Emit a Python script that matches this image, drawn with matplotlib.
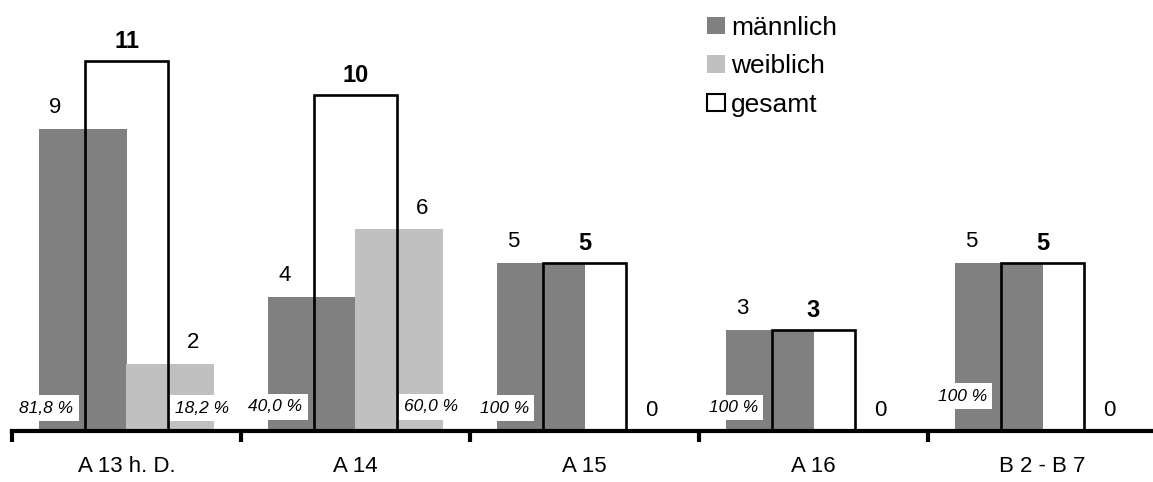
import matplotlib
matplotlib.use("Agg")
import matplotlib.pyplot as plt
from matplotlib.patches import Patch
import numpy as np

plt.rcParams['font.family'] = ['Liberation Sans', 'DejaVu Sans']

# data
categories = ["A 13 h. D.", "A 14", "A 15", "A 16", "B 2 - B 7"]
maennlich = [9, 4, 5, 3, 5]
weiblich = [2, 6, 0, 0, 0]
gesamt = [11, 10, 5, 3, 5]
pct_m = ["81,8 %", "40,0 %", "100 %", "100 %", "100 %"]
pct_w = ["18,2 %", "60,0 %", "", "", ""]

# style
c_m = "#808080"
c_w = "#c0c0c0"
bw = 0.385
gw = 0.36
off = 0.19
pct_y = [0.68, 0.72, 0.68, 0.70, 1.04]

x = np.arange(len(categories))

fig = plt.figure(figsize=(11.53, 4.82), dpi=100)
ax = fig.add_axes([12 / 1153, 51 / 482, 1145 / 1153, 420 / 482])

# gesamt fill behind, outline on top
ax.bar(x, gesamt, width=gw, color="white", edgecolor="none", zorder=1)
ax.bar(x - off, maennlich, width=bw, color=c_m, zorder=2)
ax.bar(x + off, weiblich, width=bw, color=c_w, zorder=2)
ax.bar(x, gesamt, width=gw, fill=False, edgecolor="black", linewidth=1.9, zorder=3)

for i in range(len(x)):
    ax.annotate(str(maennlich[i]), (x[i] - 0.31, maennlich[i]), xytext=(0, 15.5),
                textcoords="offset points", ha="center", va="center", fontsize=16)
    ax.annotate(str(weiblich[i]), (x[i] + 0.29, weiblich[i]), xytext=(0, 15),
                textcoords="offset points", ha="center", va="center", fontsize=16)
    ax.annotate(str(gesamt[i]), (x[i], gesamt[i]), xytext=(0, 14),
                textcoords="offset points", ha="center", va="center", fontsize=17,
                fontweight="bold")
    ax.text(x[i] - 0.35, pct_y[i], pct_m[i], ha="center", va="center", fontsize=12.5,
            style="italic",
            bbox=dict(boxstyle="square,pad=0.3", fc="white", ec="none"), zorder=4)
    if pct_w[i]:
        ax.text(x[i] + 0.33, pct_y[i], pct_w[i], ha="center", va="center", fontsize=12.5,
                style="italic",
                bbox=dict(boxstyle="square,pad=0.3", fc="white", ec="none"), zorder=4)

ax.set_xlim(-0.5, len(categories) - 0.5)
ax.set_ylim(0, 12.5)
for s in ["top", "right", "left"]:
    ax.spines[s].set_visible(False)
ax.spines["bottom"].set_linewidth(3)
ax.set_yticks([])
ax.set_xticks(x)
ax.set_xticklabels(categories, fontsize=16)
ax.tick_params(axis="x", which="major", length=0, pad=18)
ax.set_xticks(np.arange(len(categories) + 1) - 0.5, minor=True)
ax.tick_params(axis="x", which="minor", length=8, width=3, direction="out")

handles = [Patch(facecolor=c_m, edgecolor="none", label="männlich"),
           Patch(facecolor=c_w, edgecolor="none", label="weiblich"),
           Patch(facecolor="white", edgecolor="black", linewidth=1.5, label="gesamt")]
fig.legend(handles=handles, loc="upper left", bbox_to_anchor=(689 / 1153, 1.006),
           frameon=False, fontsize=19, handlelength=0.65, handleheight=0.65,
           handletextpad=0.25, labelspacing=0.55, borderaxespad=0.3)

fig.savefig("out.png", dpi=100, facecolor="white")
